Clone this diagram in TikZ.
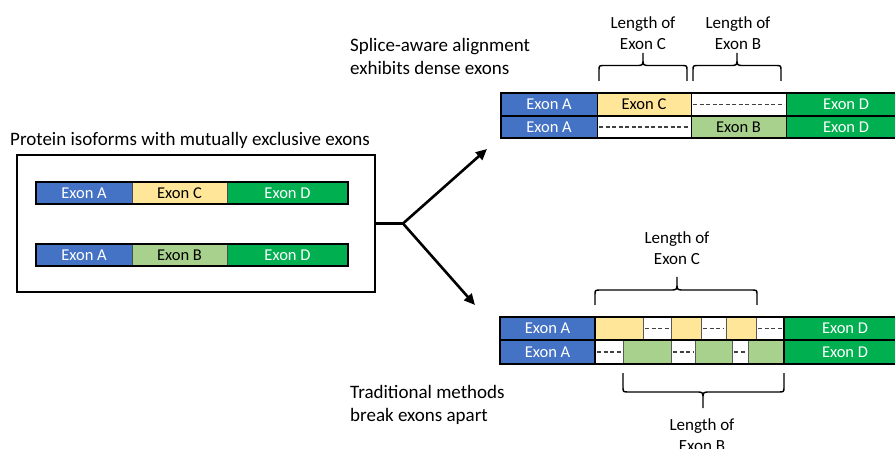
\documentclass[tikz,border=0pt]{standalone}
\usepackage{fontspec}
\setmainfont{Carlito}
\usetikzlibrary{arrows.meta,fit}

\definecolor{exA}{HTML}{4472C4}
\definecolor{exC}{HTML}{FFE699}
\definecolor{exB}{HTML}{A9D18E}
\definecolor{exD}{HTML}{00B050}
\definecolor{gapline}{HTML}{595959}
\definecolor{dashgray}{HTML}{404040}

\tikzset{
  seg/.style={inner sep=0pt, outer sep=0pt, font=\fontsize{16.5}{19}\selectfont},
  segA/.style={seg, fill=exA, text=white},
  segC/.style={seg, fill=exC, text=black},
  segB/.style={seg, fill=exB, text=black},
  segD/.style={seg, fill=exD, text=white},
  segW/.style={seg, fill=white},
  thinedge/.style={draw=#1, line width=1pt},
  rowframe/.style={draw=black, line width=2pt},
  gapdash/.style={draw=dashgray, line width=1.2pt, dash pattern=on 4pt off 2.5pt},
  caption/.style={font=\fontsize{19}{23}\selectfont, align=left, inner sep=0pt},
  lenlabel/.style={font=\fontsize{17}{21}\selectfont, align=center, inner sep=0pt},
  bracepath/.style={draw=black, line width=1.4pt},
  flow/.style={draw=black, line width=2.6pt},
  flowtip/.style={flow, -{Triangle[length=11pt,width=10pt]}},
}

% one exon cell: name, x1, y1, x2, y2, style, text
\newcommand\exseg[7]{%
  \pgfmathsetmacro\segw{#4-#2}%
  \pgfmathsetmacro\segh{#5-#3}%
  \node[#6, minimum width=\segw pt, minimum height=\segh pt, anchor=center]
    (#1) at ({(#2+#4)/2},{(#3+#5)/2}) {#7};}
% dashed gap line inside a white cell
\newcommand\gapin[1]{\draw[gapdash] ([xshift=2pt]#1.west) -- ([xshift=-2pt]#1.east);}
% curly brace: x1, x2, xtip, yend, yflat, ytip
\newcommand\curlybrace[6]{%
  \pgfmathsetmacro\bsgn{(#4>#5)?1:-1}%
  \draw[bracepath] (#1,#4) -- (#1,#5+\bsgn*5)
    .. controls (#1,#5) .. (#1+6,#5) -- (#3-7,#5)
    .. controls (#3,#5) .. (#3,#5-\bsgn*7) -- (#3,#6)
    (#3,#5-\bsgn*7) .. controls (#3,#5) .. (#3+7,#5) -- (#2-6,#5)
    .. controls (#2,#5) .. (#2,#5+\bsgn*5) -- (#2,#4);%
}

\begin{document}
\begin{tikzpicture}[x=1pt,y=-1pt]
\clip (0,0) rectangle (895,449);
\fill[white] (0,0) rectangle (895,449);

% ---------- input isoforms ----------
\node[caption, anchor=west] (title) at (10,140) {Protein isoforms with mutually exclusive exons};
\node[draw=black, line width=2pt, inner sep=0pt, fit={(17,155) (375,292)}] (iso) {};

\exseg{l1a}{36}{182}{132}{204}{segA, thinedge=black!70}{Exon A}
\exseg{l1c}{132}{182}{227}{204}{segC, thinedge=black!70}{Exon C}
\exseg{l1d}{227}{182}{348}{204}{segD, thinedge=black!70}{Exon D}
\draw[rowframe] (l1a.north west) rectangle (l1d.south east);

\exseg{l2a}{36}{244}{132}{266}{segA, thinedge=black!70}{Exon A}
\exseg{l2b}{132}{244}{227}{266}{segB, thinedge=black!70}{Exon B}
\exseg{l2d}{227}{244}{348}{266}{segD, thinedge=black!70}{Exon D}
\draw[rowframe] (l2a.north west) rectangle (l2d.south east);

% ---------- branching arrows ----------
\coordinate (fork) at (403,223.5);
\coordinate (uptip) at (487,149);
\coordinate (downtip) at (475,305);
\draw[flow] (iso.east) -- (fork);
\draw[flowtip] (fork) -- (uptip);
\draw[flowtip] (fork) -- (downtip);

% ---------- splice-aware alignment ----------
\node[caption, anchor=west] (splice) at (350,56.5) {Splice-aware alignment\\exhibits dense exons};

\exseg{t1a}{501}{93}{597}{116}{segA, thinedge=black}{Exon A}
\exseg{t1c}{597}{93}{691}{116}{segC, thinedge=black}{Exon C}
\exseg{t1w}{691}{93}{786}{116}{segW, thinedge=black}{}
\exseg{t1d}{786}{93}{906}{116}{segD, thinedge=black}{Exon D}
\exseg{t2a}{501}{116}{597}{138}{segA, thinedge=black}{Exon A}
\exseg{t2w}{597}{116}{691}{138}{segW, thinedge=black}{}
\exseg{t2b}{691}{116}{786}{138}{segB, thinedge=black}{Exon B}
\exseg{t2d}{786}{116}{906}{138}{segD, thinedge=black}{Exon D}
\gapin{t1w}
\gapin{t2w}
\draw[rowframe] (t1a.north west) rectangle (t2d.south east);
\draw[rowframe] (t1a.south west) -- (t1d.south east);

\curlybrace{599}{687}{643}{81}{65.5}{53}
\curlybrace{693}{781}{737}{81}{65.5}{53}
\node[lenlabel] (lenCtop) at (643,33) {Length of\\Exon C};
\node[lenlabel] (lenBtop) at (738,33) {Length of\\Exon B};

% ---------- traditional methods ----------
\node[caption, anchor=west] (trad) at (350,404.5) {Traditional methods\\break exons apart};

\exseg{b1a}{500}{317}{595}{340}{segA, thinedge=black}{Exon A}
\exseg{b1y1}{595}{317}{643}{340}{segC, thinedge=gapline}{}
\exseg{b1w1}{643}{317}{671}{340}{segW, thinedge=gapline}{}
\exseg{b1y2}{671}{317}{701}{340}{segC, thinedge=gapline}{}
\exseg{b1w2}{701}{317}{726}{340}{segW, thinedge=gapline}{}
\exseg{b1y3}{726}{317}{756}{340}{segC, thinedge=gapline}{}
\exseg{b1w3}{756}{317}{784}{340}{segW, thinedge=gapline}{}
\exseg{b1d}{784}{317}{906}{340}{segD, thinedge=black}{Exon D}

\exseg{b2a}{500}{340}{595}{364}{segA, thinedge=black}{Exon A}
\exseg{b2w1}{595}{340}{623}{364}{segW, thinedge=gapline}{}
\exseg{b2g1}{623}{340}{671}{364}{segB, thinedge=gapline}{}
\exseg{b2w2}{671}{340}{695}{364}{segW, thinedge=gapline}{}
\exseg{b2g2}{695}{340}{732}{364}{segB, thinedge=gapline}{}
\exseg{b2w3}{732}{340}{748}{364}{segW, thinedge=gapline}{}
\exseg{b2g3}{748}{340}{784}{364}{segB, thinedge=gapline}{}
\exseg{b2d}{784}{340}{906}{364}{segD, thinedge=black}{Exon D}

\foreach \w in {b1w1,b1w2,b1w3,b2w1,b2w2,b2w3} {\gapin{\w}}
\draw[rowframe] (b1a.north west) rectangle (b2d.south east);
\draw[rowframe] (b1a.south west) -- (b1d.south east);
\draw[rowframe] (b1a.north east) -- (b2a.south east);
\draw[rowframe] (b1d.north west) -- (b2d.south west);

\curlybrace{595}{757}{677}{305}{290}{277}
\curlybrace{623}{784}{703}{373}{392}{408}
\node[lenlabel] (lenCbot) at (677,248) {Length of\\Exon C};
\node[lenlabel] (lenBbot) at (702,435) {Length of\\Exon B};
\end{tikzpicture}
\end{document}
